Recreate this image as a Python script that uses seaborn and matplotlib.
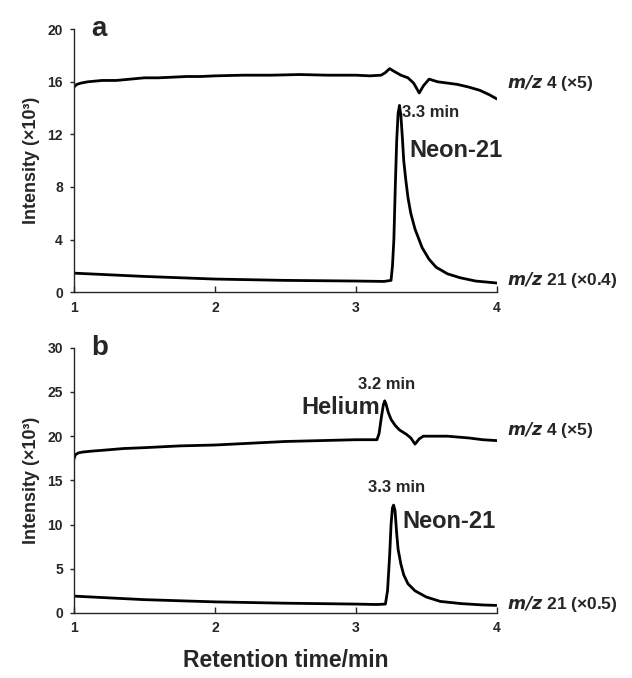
import numpy as np
import pandas as pd
import matplotlib
matplotlib.use("Agg")
import matplotlib.pyplot as plt
import seaborn as sns

# panel a, m/z 4 (x5)
a4_time = [1.00, 1.02, 1.05, 1.10, 1.20, 1.30, 1.40, 1.50, 1.60, 1.70, 1.80, 1.90, 2.00,
           2.20, 2.40, 2.60, 2.80, 3.00, 3.10, 3.18, 3.21, 3.24, 3.27, 3.32, 3.37, 3.41,
           3.45, 3.48, 3.52, 3.58, 3.65, 3.72, 3.80, 3.88, 3.95, 4.00]
a4_int = [15.6, 15.8, 15.9, 16.0, 16.1, 16.1, 16.2, 16.3, 16.3, 16.35, 16.4, 16.4, 16.45,
          16.5, 16.5, 16.55, 16.5, 16.5, 16.45, 16.5, 16.7, 17.0, 16.8, 16.5, 16.3, 15.9,
          15.15, 15.7, 16.2, 16.0, 15.9, 15.8, 15.6, 15.35, 15.0, 14.7]
# panel a, m/z 21 (x0.4)
a21_time = [1.00, 1.50, 2.00, 2.50, 3.00, 3.20, 3.25, 3.26, 3.27, 3.28, 3.29, 3.30, 3.31,
            3.32, 3.33, 3.34, 3.355, 3.37, 3.39, 3.42, 3.47, 3.52, 3.57, 3.65, 3.74,
            3.85, 4.00]
a21_int = [1.45, 1.2, 1.0, 0.9, 0.85, 0.82, 0.9, 2.0, 4.0, 8.0, 11.5, 13.6, 14.2,
           13.4, 11.8, 10.0, 8.5, 7.2, 6.0, 4.8, 3.4, 2.5, 1.9, 1.4, 1.1,
           0.85, 0.7]

# panel b, m/z 4 (x5)
b4_time = [1.00, 1.01, 1.03, 1.06, 1.12, 1.20, 1.35, 1.50, 1.75, 2.00, 2.25, 2.50, 2.75,
           3.00, 3.15, 3.165, 3.18, 3.195, 3.205, 3.215, 3.23, 3.25, 3.28, 3.31, 3.36,
           3.39, 3.42, 3.45, 3.48, 3.55, 3.65, 3.80, 3.90, 4.00]
b4_int = [17.4, 17.9, 18.1, 18.2, 18.3, 18.4, 18.6, 18.7, 18.9, 19.0, 19.2, 19.4, 19.5,
          19.6, 19.6, 20.3, 22.0, 23.5, 24.0, 23.6, 22.7, 21.9, 21.2, 20.7, 20.2,
          19.8, 19.1, 19.7, 20.0, 20.0, 20.0, 19.8, 19.6, 19.5]
# panel b, m/z 21 (x0.5)
b21_time = [1.00, 1.50, 2.00, 2.50, 3.00, 3.15, 3.21, 3.225, 3.24, 3.25, 3.26, 3.268,
            3.278, 3.29, 3.30, 3.32, 3.34, 3.37, 3.42, 3.50, 3.60, 3.75, 3.90, 4.00]
b21_int = [1.9, 1.5, 1.25, 1.1, 1.0, 0.95, 1.0, 2.5, 6.5, 10.0, 11.9, 12.2,
           11.6, 9.0, 7.2, 5.5, 4.3, 3.3, 2.5, 1.8, 1.3, 1.05, 0.9, 0.85]

sns.set_style("ticks")
plt.rcParams["font.family"] = ["Liberation Sans", "DejaVu Sans"]
plt.rcParams["font.weight"] = "bold"

fig = plt.figure(figsize=(6.32, 6.78), dpi=100, facecolor="white")
ax_a = fig.add_axes([0.117, 0.569, 0.669, 0.388])
ax_b = fig.add_axes([0.117, 0.096, 0.669, 0.391])

panels = [
    (ax_a, a4_time, a4_int, a21_time, a21_int, (0, 20), [0, 4, 8, 12, 16, 20], "a",
     " 21 (×0.4)"),
    (ax_b, b4_time, b4_int, b21_time, b21_int, (0, 30), [0, 5, 10, 15, 20, 25, 30], "b",
     " 21 (×0.5)"),
]

for ax, t4, i4, t21, i21, ylim, yticks, letter, lab21 in panels:
    df4 = pd.DataFrame({"time": t4, "intensity": i4})
    df21 = pd.DataFrame({"time": t21, "intensity": i21})
    for df in (df4, df21):
        sns.lineplot(data=df, x="time", y="intensity", color="black", lw=2.0, ax=ax,
                     estimator=None, sort=False)
    ax.set_xlim(1, 4)
    ax.set_ylim(*ylim)
    ax.set_yticks(yticks)
    ax.set_xticks([1, 2, 3, 4])
    sns.despine(ax=ax)
    for s in ("left", "bottom"):
        ax.spines[s].set_linewidth(1.0)
    ax.tick_params(axis="y", direction="out", length=3, width=1, labelsize=10, pad=5)
    ax.tick_params(axis="x", direction="in", length=4, width=1, labelsize=10, pad=6)
    ax.set_xlabel("")
    ax.set_ylabel("Intensity (×10³)", fontsize=13, fontweight="bold", labelpad=5)
    ax.text(0.04, 1.0, letter, transform=ax.transAxes, fontsize=20, fontweight="bold",
            ha="left", va="center")
    ax.text(1.025, (i4[-1] + 1.2) / ylim[1], r"$\mathbfit{m/z}$ 4 (×5)", transform=ax.transAxes,
            fontsize=12.5, fontweight="bold", ha="left", va="center", clip_on=False)
    ax.text(1.025, (i21[-1] + 0.2) / ylim[1], r"$\mathbfit{m/z}$" + lab21,
            transform=ax.transAxes, fontsize=12.5, fontweight="bold", ha="left",
            va="center", clip_on=False)

ax_a.text(3.33, 13.7, "3.3 min", fontsize=12, fontweight="bold", ha="left", va="center")
ax_a.text(3.38, 10.8, "Neon-21", fontsize=17, fontweight="bold", ha="left", va="center")

ax_b.text(3.22, 25.9, "3.2 min", fontsize=12, fontweight="bold", ha="center", va="center")
ax_b.text(3.175, 23.2, "Helium", fontsize=17, fontweight="bold", ha="right", va="center")
ax_b.text(3.29, 14.2, "3.3 min", fontsize=12, fontweight="bold", ha="center", va="center")
ax_b.text(3.33, 10.3, "Neon-21", fontsize=17, fontweight="bold", ha="left", va="center")

ax_b.set_xlabel("Retention time/min", fontsize=16.5, fontweight="bold", labelpad=10)

fig.savefig("out.png", dpi=100, facecolor="white")
